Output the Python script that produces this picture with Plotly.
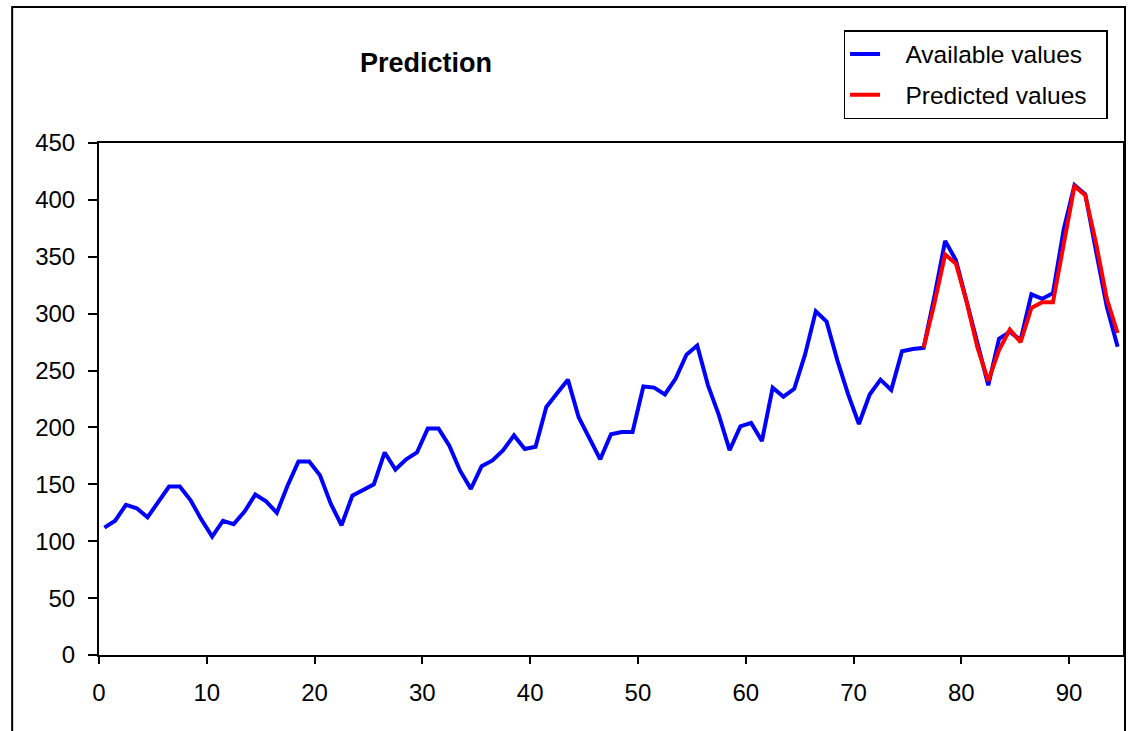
import plotly.graph_objects as go

available = [112, 118, 132, 129, 121, 135, 148, 148, 136, 119, 104, 118,
             115, 126, 141, 135, 125, 149, 170, 170, 158, 133, 114, 140,
             145, 150, 178, 163, 172, 178, 199, 199, 184, 162, 146, 166,
             171, 180, 193, 181, 183, 218, 230, 242, 209, 191, 172, 194,
             196, 196, 236, 235, 229, 243, 264, 272, 237, 211, 180, 201,
             204, 188, 235, 227, 234, 264, 302, 293, 259, 229, 203, 229,
             242, 233, 267, 269, 270, 315, 364, 347, 312, 274, 237, 278,
             284, 277, 317, 313, 318, 374, 413, 405, 355, 306, 271]
predicted_start = 76
predicted = [270, 309, 352, 344, 310, 270, 241, 268, 286, 275, 305, 310,
             310, 362, 412, 404, 362, 313, 283]
series_names = ["Available values", "Predicted values"]

x_avail = [i + 0.5 for i in range(len(available))]
x_pred = [predicted_start + i + 0.5 for i in range(len(predicted))]

FONT = "Liberation Sans, Arial, sans-serif"

W, H = 1129, 731
L, R, T, B = 99, 4, 143, 76
PW, PH = W - L - R, H - T - B


def px(xp):
    return (xp - L) / PW


def py(yp):
    return (H - B - yp) / PH


pad = "\u00a0\u00a0\u00a0"
fig = go.Figure()
fig.add_trace(go.Scatter(x=x_avail, y=available, mode="lines", name=pad + series_names[0] + "\u00a0\u00a0",
                         legendgroup="a", line=dict(color="#0000FF", width=4)))
fig.add_trace(go.Scatter(x=x_pred, y=predicted, mode="lines", name=pad + series_names[1] + "\u00a0\u00a0",
                         legendgroup="p", line=dict(color="#FF0000", width=4)))

fig.update_layout(
    width=W, height=H,
    margin=dict(l=L, r=R, t=T, b=B),
    paper_bgcolor="white", plot_bgcolor="white",
    font=dict(family=FONT, size=24, color="black"),
    showlegend=True,
    legend=dict(x=px(845), y=py(30), xanchor="left", yanchor="top",
                bordercolor="black", borderwidth=1.5, bgcolor="white",
                font=dict(size=24.5, family=FONT), tracegroupgap=6),
    xaxis=dict(range=[0, 95], tickvals=[0, 10, 20, 30, 40, 50, 60, 70, 80, 90],
               ticks="outside", ticklen=7, tickwidth=2, tickcolor="black",
               showline=True, linecolor="black", linewidth=2, mirror=True,
               showgrid=False, zeroline=False, tickfont=dict(size=24),
               ticklabelstandoff=8),
    yaxis=dict(range=[0, 450], tickvals=[0, 50, 100, 150, 200, 250, 300, 350, 400, 450],
               ticks="outside", ticklen=9, tickwidth=2, tickcolor="black",
               showline=True, linecolor="black", linewidth=2, mirror=True,
               showgrid=False, zeroline=False, tickfont=dict(size=24),
               ticklabelstandoff=8),
    annotations=[dict(text="<b>Prediction</b>", xref="paper", yref="paper",
                      x=px(427), y=py(63), xanchor="center", yanchor="middle",
                      showarrow=False, font=dict(size=27, family=FONT))],
    shapes=[dict(type="rect", xref="paper", yref="paper",
                 x0=px(12), x1=px(1127),
                 y0=py(740), y1=py(7),
                 line=dict(color="black", width=2), layer="below")],
)

fig.write_html("out.html", config={"displayModeBar": False},
               post_script="document.body.style.margin='0px';")
